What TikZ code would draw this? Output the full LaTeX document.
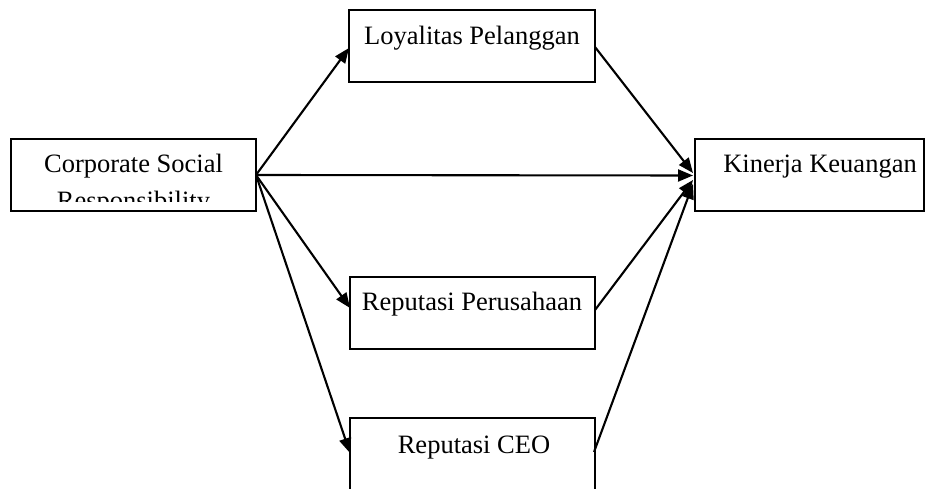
\documentclass[tikz,border=0pt]{standalone}
\usepackage{fontspec}
\setmainfont{Liberation Serif}
\usetikzlibrary{arrows.meta,calc}
\begin{document}
\begin{tikzpicture}[x=1pt,y=-1pt,
  box/.style={draw,line width=2.1pt,rectangle,inner sep=0pt,outer sep=0pt},
  lbl/.style={anchor=base,inner sep=0pt,font=\fontsize{26.5}{30}\selectfont},
  arr/.style={line width=2.1pt,-{Triangle[length=15pt,width=12pt]}}]
\clip (0,0) rectangle (927,489);
% boxes
\node[box,minimum width=245pt,minimum height=72pt] (csr) at (133.5,175) {};
\node[box,minimum width=246pt,minimum height=72pt] (loy) at (472,46) {};
\node[box,minimum width=229pt,minimum height=72pt] (kin) at (809.5,175) {};
\node[box,minimum width=245pt,minimum height=72pt] (per) at (472.5,313) {};
\node[box,minimum width=245pt,minimum height=73pt] (ceo) at (472.5,454.5) {};
% texts
\node[lbl] (csrt1) at (133.5,173) {Corporate Social};
\begin{scope}
\clip (11,139) rectangle (256,202);
\node[lbl] (csrt2) at (133.5,209.5) {Responsibility};
\end{scope}
\node[lbl] (loyt) at (472,45) {Loyalitas Pelanggan};
\node[lbl] (kint) at (820,173) {Kinerja Keuangan};
\node[lbl] (pert) at (472,311) {Reputasi Perusahaan};
\node[lbl] (ceot) at (474,453) {Reputasi CEO};
% connectors
\draw[arr] (csr.east) -- ($(loy.west)+(0,2)$);
\draw[arr] (csr.east) -- ($(per.west)+(0,-5)$);
\draw[arr] (csr.east) -- ($(ceo.west)+(0,-1.5)$);
\draw[arr] (csr.east) -- ($(kin.west)+(-2,0.5)$);
\draw[arr] ($(loy.east)+(0,1)$) -- ($(kin.west)+(-2,-2)$);
\draw[arr] ($(per.east)+(0,-3)$) -- ($(kin.west)+(-2,5)$);
\draw[arr] ($(ceo.east)+(-1,-2.5)$) -- ($(kin.west)+(-2,9)$);
\end{tikzpicture}
\end{document}
